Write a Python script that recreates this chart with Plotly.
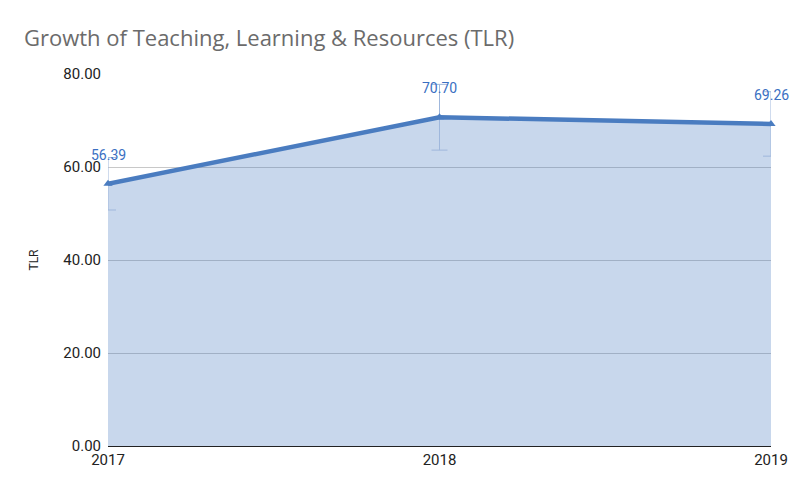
import plotly.graph_objects as go

years = [2017, 2018, 2019]
tlr = [56.39, 70.70, 69.26]
labels = ["56.39", "70.70", "69.26"]
y_ticks = [0, 20, 40, 60, 80]
y_tick_text = ["0.00", "20.00", "40.00", "60.00", "80.00"]

line_color = "#4a7cc0"
fill_color = "rgba(74,124,192,0.3)"

fig = go.Figure()
fig.add_trace(go.Scatter(
    x=years, y=tlr, mode="lines+markers",
    line=dict(color=line_color, width=4.5),
    marker=dict(symbol="triangle-up", size=8, color=line_color),
    fill="tozeroy", fillcolor=fill_color,
    error_y=dict(type="percent", value=10, color="#9fb7dc", thickness=1, width=8),
    cliponaxis=False, showlegend=False,
))

for x, y, t in zip(years, tlr, labels):
    fig.add_annotation(x=x, y=y, text=t, showarrow=False, yshift=29,
                       font=dict(family="Roboto", size=14, color="#3a6fc2"))

fig.update_layout(
    width=800, height=494,
    margin=dict(l=108, r=25, t=74, b=48),
    paper_bgcolor="white", plot_bgcolor="white",
    title=dict(text="Growth of Teaching, Learning & Resources (TLR)",
               x=24/800, xanchor="left", y=1-38/494, yanchor="middle",
               font=dict(family="Open Sans", size=22, color="#6b6b6b")),
    font=dict(family="Roboto", size=13, color="#222222"),
    xaxis=dict(range=[2017, 2019], tickvals=years, ticktext=[str(y) for y in years],
               showgrid=False, zeroline=False, showline=True, linecolor="#222222",
               linewidth=1, ticks="", tickfont=dict(size=15)),
    yaxis=dict(range=[0, 80], tickvals=y_ticks, ticktext=y_tick_text,
               showgrid=True, gridcolor="#c8c8c8", gridwidth=1, zeroline=False,
               ticks="", tickfont=dict(size=15), ticklabelstandoff=6,
               title=dict(text="TLR", font=dict(size=12), standoff=22)),
)

fig.write_html("out.html")
